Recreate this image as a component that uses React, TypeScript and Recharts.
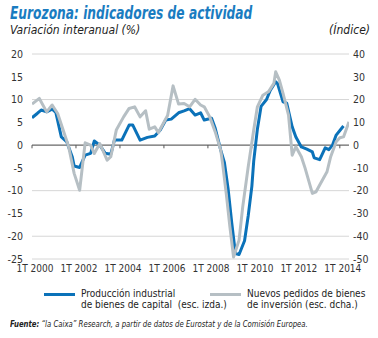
import React from 'react';
import { LineChart, Line, XAxis, YAxis, CartesianGrid, ReferenceLine } from 'recharts';

// month index counted from Jan 2000 (0 = 1T 2000)
const produccionMonths = [
  0, 3, 5, 8, 11, 13, 16, 19, 22, 23, 26, 29, 32, 34, 37, 40, 43, 45, 49, 53,
  55, 59, 63, 67, 70, 73, 76, 80, 83, 86, 89, 92, 94, 98, 100, 103, 105, 107, 109, 111,
  113, 116, 118, 120, 121, 123, 125, 128, 130, 133, 134, 137, 139, 142, 144, 147, 150, 153, 154, 157,
  160, 162, 164, 166, 169, 170,
];
const produccionValues = [
  6.0, 7.0, 7.7, 7.3, 7.9, 7.2, 1.8, 0.7, -2.6, -4.6, -4.9, -2.2, -1.8, 0.9, 0.0, -1.8, -2.0, 1.1, 1.1, 4.4,
  4.4, 1.1, 1.7, 2.0, 3.3, 5.5, 5.7, 7.1, 7.5, 8.0, 6.6, 7.1, 5.5, 5.9, 3.7, -1.1, -3.8, -9.5, -17.0, -23.8,
  -24.0, -21.0, -15.5, -9.0, -3.5, 3.5, 8.5, 10.0, 12.0, 13.9, 13.5, 9.5, 9.2, 4.0, 1.8, -0.4, -0.9, -1.5, -2.8, -3.2,
  -0.6, -1.0, 0.0, 2.2, 3.7, 4.2,
];

const pedidosMonths = [
  0, 4, 8, 11, 14, 17, 20, 23, 26, 29, 32, 34, 37, 41, 43, 46, 50, 53, 56, 59,
  62, 64, 67, 69, 72, 74, 77, 80, 83, 86, 89, 92, 94, 97, 100, 103, 104, 106, 108, 110,
  113, 115, 118, 121, 123, 126, 129, 132, 133, 135, 137, 140, 142, 144, 147, 149, 153, 155, 157, 161,
  163, 166, 168, 170, 173,
];
const pedidosValues = [
  18.0, 20.5, 14.6, 17.6, 13.9, 6.6, -0.7, -12.4, -19.8, 1.0, 0.0, -3.7, 0.7, -6.6, -5.1, 6.6, 12.4, 16.1, 16.8, 12.4,
  15.1, 7.0, 8.0, 5.5, 10.0, 13.0, 26.0, 18.0, 18.3, 16.8, 20.1, 17.6, 16.8, 12.4, 5.8, -2.2, -8.0, -21.2, -35.9, -49.1,
  -41.7, -27.1, -9.5, 6.6, 16.8, 21.9, 23.4, 27.1, 32.2, 28.5, 22.7, 13.2, -4.4, -0.7, -5.1, -10.0, -21.2, -20.5, -17.5, -11.7,
  -5.1, 1.5, 3.2, 3.6, 10.2,
];

const yearTicks = [0, 24, 48, 72, 96, 120, 144, 168];
const leftTicks = [-25, -20, -15, -10, -5, 0, 5, 10, 15, 20];
const rightTicks = [-50, -40, -30, -20, -10, 0, 10, 20, 30, 40];

const produccionData = produccionMonths.map((m, i) => ({ m, v: produccionValues[i] }));
const pedidosData = pedidosMonths.map((m, i) => ({ m, v: pedidosValues[i] }));

const FONT = "'DejaVu Sans Condensed', 'DejaVu Sans', sans-serif";
const BLUE = '#0b72b9';
const GRAY = '#b6bfc4';

export default function App() {
  return (
    <div style={{ position: 'absolute', left: 0, top: 0, width: 378, height: 338, background: '#fff', fontFamily: FONT, color: '#222' }}>
      <div style={{ position: 'absolute', left: 10, top: 3, fontSize: 17, fontWeight: 'bold', fontStyle: 'italic', color: '#1a7cc1', whiteSpace: 'nowrap', transform: 'scaleX(0.8)', transformOrigin: 'left top' }}>
        Eurozona: indicadores de actividad
      </div>
      <div style={{ position: 'absolute', left: 10, top: 23, fontSize: 12, fontStyle: 'italic', whiteSpace: 'nowrap' }}>
        Variación interanual (%)
      </div>
      <div style={{ position: 'absolute', right: 8, top: 23, fontSize: 12, fontStyle: 'italic', whiteSpace: 'nowrap' }}>
        (Índice)
      </div>

      <div style={{ position: 'absolute', left: 0, top: 40 }}>
        <LineChart width={378} height={242} margin={{ top: 14, right: 0, left: 0, bottom: 3 }}>
          <CartesianGrid yAxisId="left" horizontal vertical={false} stroke="#d6d6d6" strokeWidth={1} />
          <XAxis
            dataKey="m"
            type="number"
            domain={[0, 173]}
            ticks={yearTicks}
            tickFormatter={(v: number) => `1T ${2000 + v / 12}`}
            axisLine={false}
            tickLine={false}
            tickSize={0}
            tickMargin={6}
            height={20}
            tick={{ fontSize: 10, fill: '#333', fontFamily: FONT, dx: 3 }}
            allowDataOverflow
          />
          <YAxis
            yAxisId="left"
            domain={[-25, 20]}
            ticks={leftTicks}
            axisLine={false}
            tickLine={false}
            tickSize={0}
            tickMargin={9}
            width={32}
            tick={{ fontSize: 10.5, fill: '#333', fontFamily: FONT }}
          />
          <YAxis
            yAxisId="right"
            orientation="right"
            domain={[-50, 40]}
            ticks={rightTicks}
            axisLine={false}
            tickLine={false}
            tickSize={0}
            tickMargin={4}
            width={29}
            tick={{ fontSize: 10.5, fill: '#333', fontFamily: FONT, textAnchor: 'start' }}
          />
          <ReferenceLine yAxisId="left" y={0} stroke="#555" strokeWidth={1} />
          {yearTicks.map((t) => (
            <ReferenceLine
              key={t}
              yAxisId="left"
              segment={[{ x: t, y: 0 }, { x: t, y: -0.7 }]}
              stroke="#555"
              strokeWidth={1}
            />
          ))}
          <Line
            yAxisId="left"
            data={produccionData}
            dataKey="v"
            stroke={BLUE}
            strokeWidth={3}
            dot={false}
            isAnimationActive={false}
            strokeLinejoin="round"
          />
          <Line
            yAxisId="right"
            data={pedidosData}
            dataKey="v"
            stroke={GRAY}
            strokeWidth={3}
            dot={false}
            isAnimationActive={false}
            strokeLinejoin="round"
          />
        </LineChart>
      </div>

      <div style={{ position: 'absolute', left: 44, top: 293, width: 31, height: 3, background: BLUE }} />
      <div style={{ position: 'absolute', left: 81, top: 288, fontSize: 10, lineHeight: '11px', whiteSpace: 'nowrap' }}>
        Producción industrial<br />de bienes de capital&nbsp; (esc. izda.)
      </div>
      <div style={{ position: 'absolute', left: 210, top: 293, width: 31, height: 3, background: GRAY }} />
      <div style={{ position: 'absolute', left: 247, top: 288, fontSize: 10, lineHeight: '11px', whiteSpace: 'nowrap' }}>
        Nuevos pedidos de bienes<br />de inversión (esc. dcha.)
      </div>

      <div style={{ position: 'absolute', left: 10, top: 318, fontSize: 9.5, fontStyle: 'italic', whiteSpace: 'nowrap', transform: 'scaleX(0.81)', transformOrigin: 'left top' }}>
        <b>Fuente:</b> “la Caixa” Research, a partir de datos de Eurostat y de la Comisión Europea.
      </div>
    </div>
  );
}
